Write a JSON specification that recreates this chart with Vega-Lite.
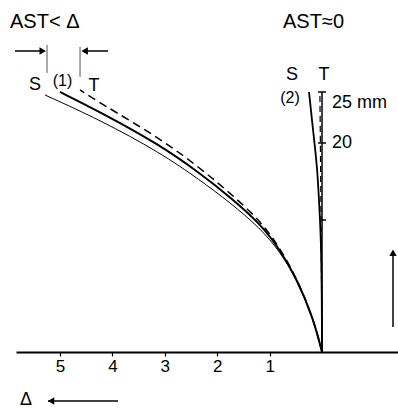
{
  "$schema": "https://vega.github.io/schema/vega-lite/v6.json",
  "width": 382,
  "height": 352,
  "padding": {"left": 16, "top": 0, "right": 0, "bottom": 56},
  "autosize": {"type": "none"},
  "background": "white",
  "config": {"view": {"stroke": null}, "text": {"font": "Liberation Sans", "color": "black"}},
  "datasets": {
    "curves": [
      {"c": "S1", "d": 5.286, "h": 24.59}, {"c": "S1", "d": 4.237, "h": 22.2}, {"c": "S1", "d": 3.092, "h": 19.09},
      {"c": "S1", "d": 2.328, "h": 16.45}, {"c": "S1", "d": 1.756, "h": 14.3}, {"c": "S1", "d": 1.183, "h": 11.87},
      {"c": "S1", "d": 0.802, "h": 9.6}, {"c": "S1", "d": 0.477, "h": 6.9}, {"c": "S1", "d": 0.172, "h": 3.3}, {"c": "S1", "d": 0, "h": 0},
      {"c": "M1", "d": 5.0, "h": 24.88}, {"c": "M1", "d": 4.237, "h": 22.97}, {"c": "M1", "d": 3.092, "h": 19.81},
      {"c": "M1", "d": 2.328, "h": 17.1}, {"c": "M1", "d": 1.756, "h": 14.83}, {"c": "M1", "d": 1.183, "h": 12.3},
      {"c": "M1", "d": 0.802, "h": 9.8}, {"c": "M1", "d": 0.477, "h": 6.95}, {"c": "M1", "d": 0.172, "h": 3.3}, {"c": "M1", "d": 0, "h": 0},
      {"c": "T1", "d": 4.618, "h": 25.07}, {"c": "T1", "d": 4.237, "h": 23.83}, {"c": "T1", "d": 3.092, "h": 20.45},
      {"c": "T1", "d": 2.328, "h": 17.6}, {"c": "T1", "d": 1.756, "h": 15.22}, {"c": "T1", "d": 1.183, "h": 12.6},
      {"c": "T1", "d": 0.802, "h": 9.95}, {"c": "T1", "d": 0.477, "h": 7.0}, {"c": "T1", "d": 0.172, "h": 3.3}, {"c": "T1", "d": 0, "h": 0},
      {"c": "S2", "d": 0.248, "h": 24.88}, {"c": "S2", "d": 0.172, "h": 21.24}, {"c": "S2", "d": 0.095, "h": 17.89},
      {"c": "S2", "d": 0.057, "h": 14.55}, {"c": "S2", "d": 0.019, "h": 10.72}, {"c": "S2", "d": 0.004, "h": 5.93}, {"c": "S2", "d": 0, "h": 0},
      {"c": "T2", "d": 0.04, "h": 24.6}, {"c": "T2", "d": 0.02, "h": 14.0}, {"c": "T2", "d": 0, "h": 0}
    ],
    "hrules": [
      {"k": "tick", "d1": 0.076, "d2": -0.076, "h": 24.88},
      {"k": "tick", "d1": 0.076, "d2": -0.076, "h": 20.0},
      {"k": "tick", "d1": 0.0, "d2": -0.076, "h": 12.63},
      {"k": "arrow", "d1": 5.229, "d2": 3.893, "h": -4.69},
      {"k": "arrow", "d1": 5.859, "d2": 5.3, "h": 28.8},
      {"k": "arrow", "d1": 4.56, "d2": 4.084, "h": 28.8}
    ],
    "vrules": [
      {"k": "axis", "d": 0, "h1": 0, "h2": 24.88},
      {"k": "arrow", "d": -1.355, "h1": 2.39, "h2": 9.5},
      {"k": "bar", "d": 5.248, "h1": 26.7, "h2": 29.38},
      {"k": "bar", "d": 4.618, "h1": 26.32, "h2": 29.19}
    ],
    "heads": [
      {"shape": "triangle-left", "d": 5.17, "h": -4.69},
      {"shape": "triangle-right", "d": 5.33, "h": 28.8},
      {"shape": "triangle-left", "d": 4.53, "h": 28.8},
      {"shape": "triangle-up", "d": -1.355, "h": 9.5}
    ],
    "labels": [
      {"g": "big", "t": "AST< Δ", "d": 5.954, "h": 31.58},
      {"g": "big", "t": "AST≈0", "d": 0.744, "h": 31.58},
      {"g": "mid", "t": "S", "d": 5.477, "h": 25.55},
      {"g": "mid", "t": "T", "d": 4.351, "h": 25.45},
      {"g": "mid", "t": "S", "d": 0.573, "h": 26.51},
      {"g": "mid", "t": "T", "d": -0.038, "h": 26.51},
      {"g": "small", "t": "(1)", "d": 4.952, "h": 25.89},
      {"g": "small", "t": "(2)", "d": 0.611, "h": 24.31},
      {"g": "left", "t": "25 mm", "d": -0.191, "h": 23.83},
      {"g": "left", "t": "20", "d": -0.191, "h": 20.0},
      {"g": "delta", "t": "Δ", "d": 5.649, "h": -5.1}
    ]
  },
  "encoding": {
    "x": {"field": "d", "type": "quantitative", "scale": {"domain": [-1.45, 5.84], "reverse": true, "nice": false, "zero": false},
      "axis": {"values": [1, 2, 3, 4, 5], "title": null, "grid": false, "domainColor": "black", "domainWidth": 2,
        "tickColor": "black", "tickWidth": 1.2, "tickSize": 4, "labelFont": "Liberation Sans", "labelFontSize": 17,
        "labelColor": "black", "labelPadding": 2}},
    "y": {"field": "h", "type": "quantitative", "scale": {"domain": [0, 33.68], "nice": false, "zero": false}, "axis": null}
  },
  "layer": [
    {"data": {"name": "curves"}, "transform": [{"filter": "datum.c === 'S1'"}],
      "mark": {"type": "line", "color": "black", "strokeWidth": 1, "interpolate": "basis", "clip": false},
      "encoding": {"order": {"field": "h", "type": "quantitative"}}},
    {"data": {"name": "curves"}, "transform": [{"filter": "datum.c === 'M1'"}],
      "mark": {"type": "line", "color": "black", "strokeWidth": 2, "interpolate": "basis", "clip": false},
      "encoding": {"order": {"field": "h", "type": "quantitative"}}},
    {"data": {"name": "curves"}, "transform": [{"filter": "datum.c === 'T1'"}],
      "mark": {"type": "line", "color": "black", "strokeWidth": 1.5, "strokeDash": [8, 5], "interpolate": "basis", "clip": false},
      "encoding": {"order": {"field": "h", "type": "quantitative"}}},
    {"data": {"name": "curves"}, "transform": [{"filter": "datum.c === 'S2'"}],
      "mark": {"type": "line", "color": "black", "strokeWidth": 1.8, "interpolate": "basis", "clip": false},
      "encoding": {"order": {"field": "h", "type": "quantitative"}}},
    {"data": {"name": "curves"}, "transform": [{"filter": "datum.c === 'T2'"}],
      "mark": {"type": "line", "color": "black", "strokeWidth": 1.2, "strokeDash": [6, 4], "interpolate": "basis", "clip": false},
      "encoding": {"order": {"field": "h", "type": "quantitative"}}},
    {"data": {"name": "vrules"}, "transform": [{"filter": "datum.k !== 'bar'"}],
      "mark": {"type": "rule", "color": "black", "strokeWidth": 1.5, "clip": false},
      "encoding": {"y": {"field": "h1", "type": "quantitative"}, "y2": {"field": "h2"}}},
    {"data": {"name": "vrules"}, "transform": [{"filter": "datum.k === 'bar'"}],
      "mark": {"type": "rule", "color": "#555", "strokeWidth": 1, "clip": false},
      "encoding": {"y": {"field": "h1", "type": "quantitative"}, "y2": {"field": "h2"}}},
    {"data": {"name": "hrules"},
      "mark": {"type": "rule", "color": "black", "strokeWidth": 1.5, "clip": false},
      "encoding": {"x": {"field": "d1", "type": "quantitative"}, "x2": {"field": "d2"}}},
    {"data": {"name": "heads"},
      "mark": {"type": "point", "filled": true, "color": "black", "size": 55, "opacity": 1, "clip": false},
      "encoding": {"shape": {"field": "shape", "type": "nominal", "scale": null}}},
    {"data": {"name": "labels"}, "transform": [{"filter": "datum.g === 'big'"}],
      "mark": {"type": "text", "fontSize": 20, "align": "left", "baseline": "middle", "clip": false},
      "encoding": {"text": {"field": "t"}}},
    {"data": {"name": "labels"}, "transform": [{"filter": "datum.g === 'mid'"}],
      "mark": {"type": "text", "fontSize": 18, "align": "center", "baseline": "middle", "clip": false},
      "encoding": {"text": {"field": "t"}}},
    {"data": {"name": "labels"}, "transform": [{"filter": "datum.g === 'small'"}],
      "mark": {"type": "text", "fontSize": 16, "align": "center", "baseline": "middle", "clip": false},
      "encoding": {"text": {"field": "t"}}},
    {"data": {"name": "labels"}, "transform": [{"filter": "datum.g === 'left'"}],
      "mark": {"type": "text", "fontSize": 18, "align": "left", "baseline": "middle", "clip": false},
      "encoding": {"text": {"field": "t"}}},
    {"data": {"name": "labels"}, "transform": [{"filter": "datum.g === 'delta'"}],
      "mark": {"type": "text", "fontSize": 18, "align": "center", "baseline": "alphabetic", "clip": false},
      "encoding": {"text": {"field": "t"}}}
  ]
}
